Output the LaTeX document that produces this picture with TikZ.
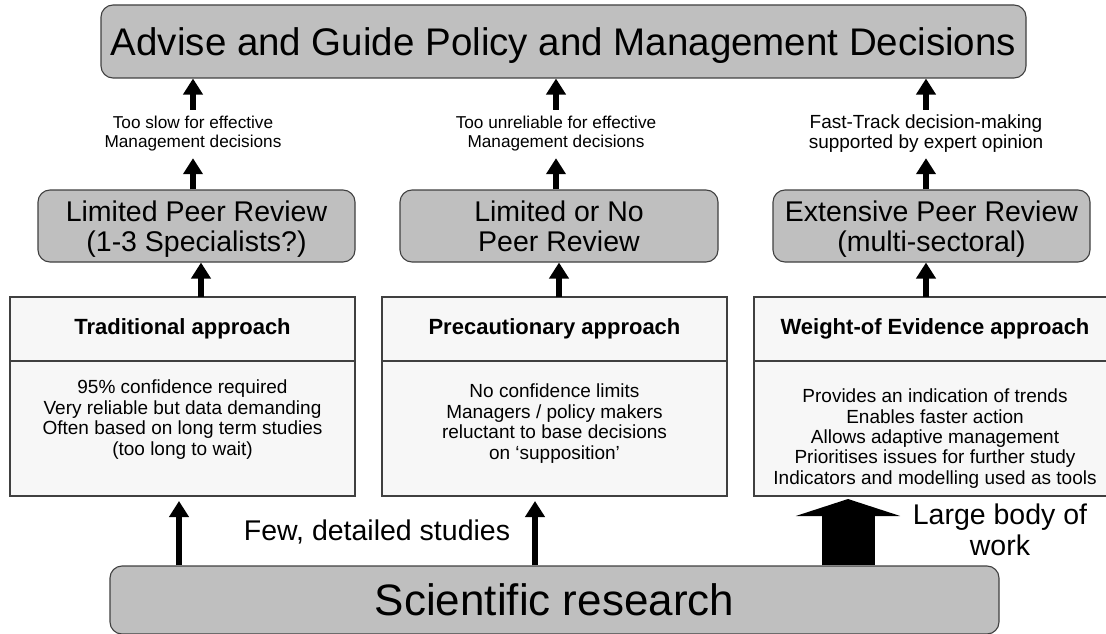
\documentclass[tikz,border=0pt]{standalone}
\usepackage{fontspec}
\setmainfont{Liberation Sans}
\usetikzlibrary{arrows.meta,positioning}
\definecolor{boxgray}{gray}{0.75}
\definecolor{boxline}{gray}{0.25}
\definecolor{paper}{gray}{0.97}
\newcommand{\toppad}{\rule{0pt}{29pt}}
\tikzset{
  graybox/.style={draw=boxline, fill=boxgray, rounded corners=12pt, line width=1.1pt,
    inner sep=0pt, align=center},
  headbox/.style={draw=boxline, fill=paper, line width=1.2pt, inner sep=0pt, outer sep=0pt,
    minimum height=64pt, font=\fontsize{22}{26}\selectfont\bfseries},
  bodybox/.style={draw=boxline, fill=paper, line width=1.2pt, inner sep=0pt, outer sep=0pt,
    minimum height=135pt},
  bodytext/.style={align=center, inner sep=0pt, font=\fontsize{19}{20.4}\selectfont},
  reason/.style={align=center, inner sep=0pt, minimum height=48pt},
  uparrow/.style={line width=6pt, -{Triangle[width=19pt,length=16pt]}},
  bigarrow/.style={line width=53pt, -{Triangle[width=104pt,length=17pt]}},
}
\begin{document}
\begin{tikzpicture}[x=1pt,y=-1pt]
  \useasboundingbox (0,0) rectangle (1106,634);
  \clip (0,0) rectangle (1106,634);

  % top and bottom
  \node[graybox, minimum width=925pt, minimum height=73pt, text depth=0pt,
    font=\fontsize{38.5}{40}\selectfont] (top) at (563.5,41.5)
    {Advise and Guide Policy and Management Decisions};
  \node[graybox, minimum width=889pt, minimum height=68pt, text depth=0pt,
    font=\fontsize{44}{48}\selectfont] (sci) at (554.5,600) {Scientific research};

  % peer review
  \tikzset{every node/.append style={font=\fontsize{28.5}{30}\selectfont}}
  \node[graybox, minimum width=317pt, minimum height=72pt] (rev1) at (196.5,226)
    {\toppad Limited Peer Review\\(1-3 Specialists?)\strut};
  \node[graybox, minimum width=318pt, minimum height=72pt] (rev2) at (559,226)
    {\toppad Limited or No\\Peer Review\strut};
  \node[graybox, minimum width=317pt, minimum height=72pt] (rev3) at (931.5,226)
    {\toppad Extensive Peer Review\\(multi-sectoral)\strut};

  % reasons
  \node[reason, font=\fontsize{17.2}{19}\selectfont] (lab1) at (193,134)
    {Too slow for effective\\Management decisions};
  \node[reason, font=\fontsize{17.2}{19}\selectfont] (lab2) at (556,134)
    {Too unreliable for effective\\Management decisions};
  \node[reason, font=\fontsize{19}{20}\selectfont] (lab3) at (926,134)
    {Fast-Track decision-making\\supported by expert opinion};

  % approaches
  \node[headbox, minimum width=345pt] (app1h) at (182.5,329) {Traditional approach};
  \node[bodybox, minimum width=345pt, below=0pt of app1h] (app1b) {};
  \node[bodytext] (app1t) at ([yshift=9pt]app1b.center)
    {95\% confidence required\\Very reliable but data demanding\\Often based on long term studies\\(too long to wait)};

  \node[headbox, minimum width=345pt] (app2h) at (554.5,329) {Precautionary approach};
  \node[bodybox, minimum width=345pt, below=0pt of app2h] (app2b) {};
  \node[bodytext] (app2t) at ([yshift=5pt]app2b.center)
    {No confidence limits\\Managers / policy makers\\reluctant to base decisions\\on `supposition'};

  \node[headbox, minimum width=362pt] (app3h) at (935,329) {Weight-of Evidence approach};
  \node[bodybox, minimum width=362pt, below=0pt of app3h] (app3b) {};
  \node[bodytext] (app3t) at ([yshift=-10pt]app3b.center)
    {Provides an indication of trends\\Enables faster action\\Allows adaptive management\\Prioritises issues for further study\\Indicators and modelling used as tools};

  % research labels
  \node[text depth=0pt] (few) at (377,530) {Few, detailed studies};
  \node[align=center, text depth=0pt, font=\fontsize{28.5}{31}\selectfont] (large) at (1000,530)
    {Large body of\\work};

  % arrows
  \coordinate (link1) at ([xshift=4.5pt]rev1.south);
  \coordinate (link2) at (rev2.south);
  \coordinate (link3) at ([xshift=-5.5pt]rev3.south);
  \coordinate (foot1) at ([xshift=-3.5pt]app1b.south);
  \coordinate (foot2) at ([xshift=-19.5pt]app2b.south);
  \coordinate (foot3) at ([xshift=-87pt]app3b.south);
  \foreach \i in {1,2,3}{
    \draw[uparrow] (lab\i.north) -- (lab\i.north |- top.south);
    \draw[uparrow] (lab\i.south |- rev\i.north) -- (lab\i.south);
    \draw[uparrow] (link\i |- app\i h.north) -- (link\i);
  }
  \draw[uparrow, shorten >=5pt] (foot1 |- sci.north) -- (foot1);
  \draw[uparrow, shorten >=5pt] (foot2 |- sci.north) -- (foot2);
  \draw[bigarrow, shorten >=3pt] (foot3 |- sci.north) -- (foot3);
\end{tikzpicture}
\end{document}
